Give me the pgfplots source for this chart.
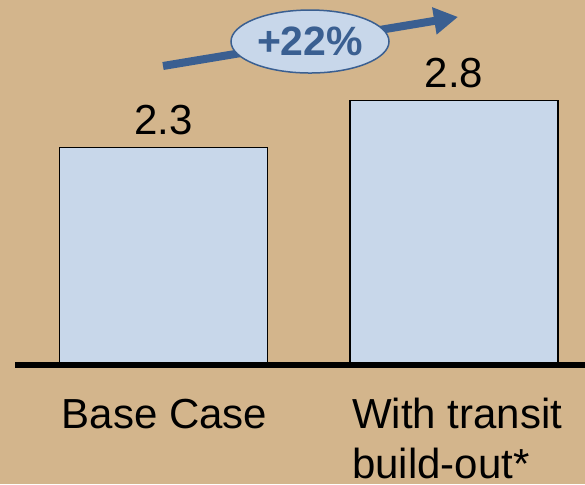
\documentclass[border=0pt]{standalone}
\usepackage{fontspec}
\setmainfont{Liberation Sans}
\usepackage{pgfplots}
\pgfplotsset{compat=1.18}
\usetikzlibrary{arrows.meta}

\definecolor{bgtan}{RGB}{211,181,140}
\definecolor{barfill}{RGB}{200,215,234}
\definecolor{arrowblue}{RGB}{58,95,145}

\newcommand{\bigfont}{\fontsize{42}{49}\selectfont}

\begin{document}
\begin{tikzpicture}
\fill[bgtan] (0,0) rectangle (585pt,484pt);
\useasboundingbox (0,0) rectangle (585pt,484pt);
\begin{axis}[
  at={(0pt,0pt)}, anchor=south west,
  scale only axis,
  width=585pt, height=484pt,
  xmin=0, xmax=585,
  ymin=-1.2593, ymax=3.8624,
  hide axis,
  clip=false,
]
\addplot[ybar, bar width=208, fill=barfill, draw=black, line width=1.3pt,
  nodes near coords={\pgfmathprintnumber[fixed,precision=1,assume math mode=true]{\pgfplotspointmeta}},
  nodes near coords style={anchor=base, yshift=13pt, font=\bigfont, text=black}]
  coordinates {(163.5,2.3) (454,2.8)};

% baseline
\draw[line width=5.5pt, black] (axis cs:15,0) -- (axis cs:585,0);

% category labels
\node[anchor=base, font=\bigfont, inner sep=0pt] at (axis cs:164.5,-0.677) {Base Case};
\node[anchor=base west, font=\bigfont, inner sep=0pt] at (axis cs:352,-0.677) {With transit};
\node[anchor=base west, font=\bigfont, inner sep=0pt] at (axis cs:352,-1.196) {build-out*};

% growth arrow with label
\draw[arrowblue, line width=8pt, -{Triangle[length=24pt,width=26pt]}]
  (axis cs:163,3.164) -- (axis cs:458,3.683);
\draw[fill=barfill, draw=arrowblue, line width=1.5pt]
  (axis cs:310,3.423) ellipse [x radius=79pt, y radius=31.5pt];
\node[anchor=base, font=\fontsize{41}{48}\selectfont\bfseries, text=arrowblue, inner sep=0pt]
  at (axis cs:310,3.280) {+22\%};
\end{axis}
\end{tikzpicture}
\end{document}
